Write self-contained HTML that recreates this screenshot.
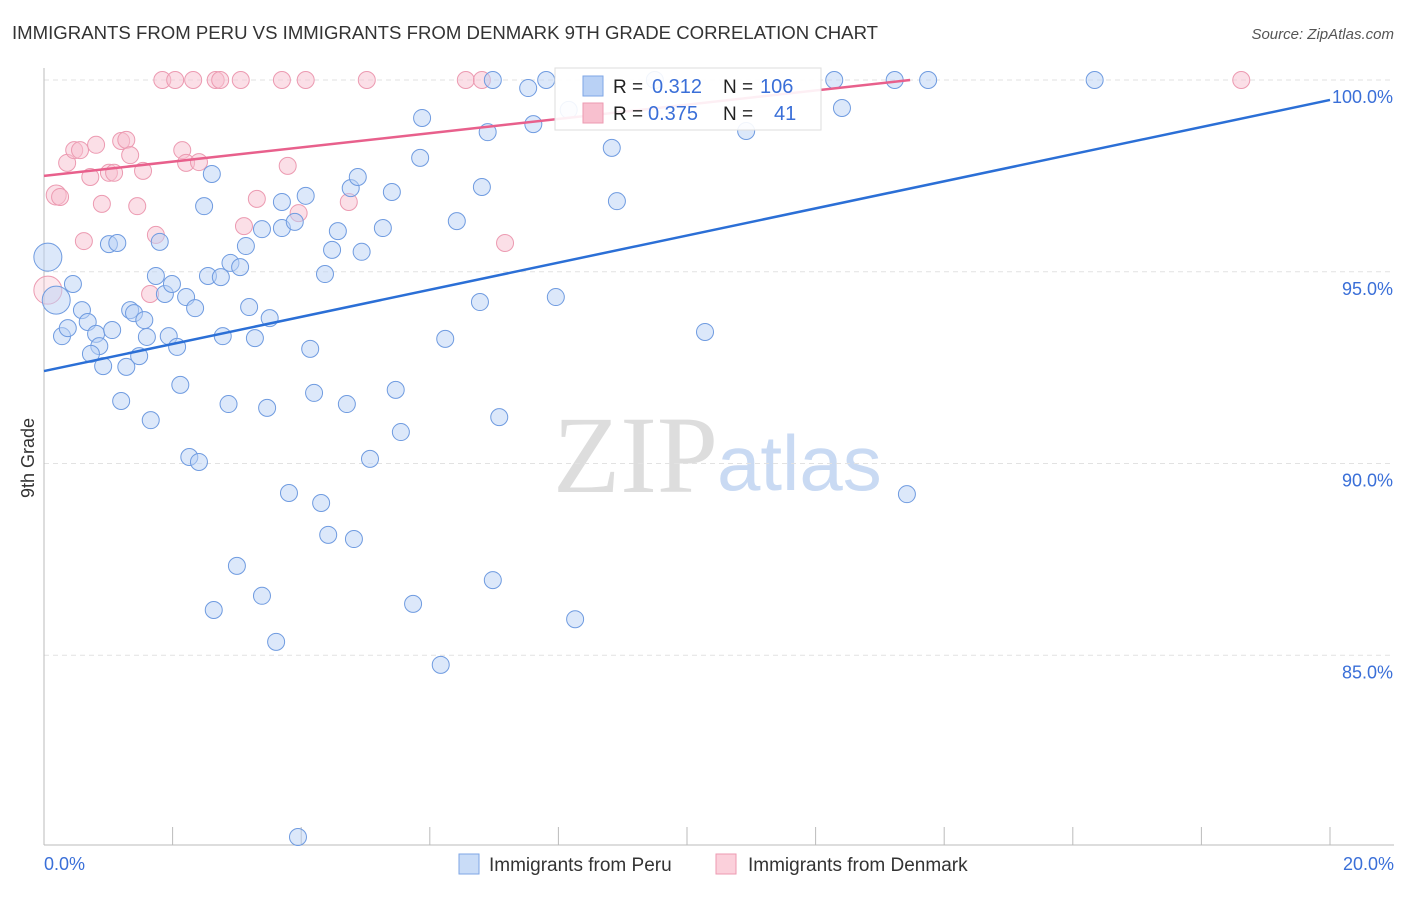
<!DOCTYPE html>
<html><head><meta charset="utf-8">
<style>
body{margin:0;background:#fff;font-family:"Liberation Sans",sans-serif;}
svg text{font-family:"Liberation Sans",sans-serif;}
</style></head>
<body>
<svg id="chart" width="1406" height="892" viewBox="0 0 1406 892">
<text x="12" y="39" font-size="18.6" fill="#333">IMMIGRANTS FROM PERU VS IMMIGRANTS FROM DENMARK 9TH GRADE CORRELATION CHART</text>
<text x="1394" y="39" font-size="15" fill="#555" font-style="italic" text-anchor="end">Source: ZipAtlas.com</text>
<g>
<text x="553" y="492" font-size="110" fill="#ddd" style="font-family:'Liberation Serif',serif">ZIP</text>
<text x="717" y="490" font-size="78" fill="#c9daf3">atlas</text>
</g>
<g id="grid"></g>
<g id="axes"></g>
<g id="pts"></g>
<g id="trends"></g>
<g>
<rect x="555" y="68" width="266" height="62" fill="#fff" fill-opacity="0.9" stroke="#ddd"/>
<rect x="583" y="76" width="20" height="20" fill="#b9d1f5" stroke="#7ea6e6"/>
<rect x="583" y="103" width="20" height="20" fill="#f8c0cf" stroke="#ec9ab1"/>
<text x="613" y="93" font-size="19" fill="#222">R = </text><text x="652" y="93" font-size="20" fill="#3a6fd8">0.312</text>
<text x="723" y="93" font-size="19" fill="#222">N = </text><text x="760" y="93" font-size="20" fill="#3a6fd8">106</text>
<text x="613" y="120" font-size="19" fill="#222">R = </text><text x="648" y="120" font-size="20" fill="#3a6fd8">0.375</text>
<text x="723" y="120" font-size="19" fill="#222">N = </text><text x="774" y="120" font-size="20" fill="#3a6fd8">41</text>
</g>
<g>
<rect x="459" y="854" width="20" height="20" fill="#c9dcf7" stroke="#7ea6e6"/>
<text x="489" y="871" font-size="19" fill="#333">Immigrants from Peru</text>
<rect x="716" y="854" width="20" height="20" fill="#fbd0db" stroke="#ec9ab1"/>
<text x="748" y="871" font-size="19" fill="#333">Immigrants from Denmark</text>
</g>
<text x="34" y="458" font-size="18" fill="#333" transform="rotate(-90 34 458)" text-anchor="middle">9th Grade</text>
</svg>
<script>
const peruX=[0.06,0.19,0.45,0.28,0.37,0.59,0.68,0.81,0.86,0.73,0.92,1.06,1.01,1.14,1.28,1.20,1.34,1.40,1.56,1.48,1.60,1.66,1.74,1.80,1.88,1.99,1.94,2.07,2.12,2.21,2.26,2.35,2.41,2.49,2.55,2.61,2.75,2.78,2.90,3.05,3.0,2.64,2.87,3.14,3.19,3.28,3.39,3.39,3.47,3.51,3.61,3.70,3.70,3.81,3.90,3.95,4.07,4.14,4.20,4.31,4.37,4.42,4.48,4.57,4.71,4.77,4.82,4.88,4.94,5.07,5.27,5.41,5.47,5.55,5.74,5.85,5.88,6.17,6.24,6.42,6.78,6.81,6.90,6.98,6.98,7.08,7.53,7.61,7.81,7.96,8.26,8.83,8.91,9.50,10.28,10.92,12.29,12.41,13.23,13.42,13.75,16.34,8.16];
const peruY=[95.38,94.26,94.68,93.32,93.53,94.0,93.69,93.38,93.06,92.86,92.54,93.48,95.72,95.75,92.52,91.63,94.0,93.92,93.74,92.8,93.30,91.13,94.89,95.78,94.42,94.68,93.32,93.04,92.05,94.34,90.17,94.05,90.04,96.71,94.89,97.55,94.86,93.32,95.23,95.12,87.33,86.18,91.55,95.67,94.08,93.27,86.55,96.11,91.45,93.79,85.35,96.14,96.82,89.23,96.30,80.26,96.98,92.99,91.84,88.97,94.94,88.14,95.57,96.06,91.55,97.18,88.03,97.47,95.52,90.12,96.14,97.08,91.92,90.82,86.34,97.97,99.01,84.75,93.25,96.32,94.21,97.21,98.64,86.96,100,91.21,99.79,98.85,100,94.34,85.94,98.23,96.84,100,93.43,98.67,100,99.27,100,89.20,100,100,99.22];
const denX=[1.84,2.04,2.32,2.67,2.74,3.06,3.70,4.07,5.02,6.56,6.81,18.62,0.19,0.25,0.36,0.47,0.56,0.62,0.72,0.81,0.90,1.01,1.09,1.20,1.28,1.34,1.45,1.54,1.65,1.74,2.15,2.21,2.41,3.11,3.31,3.79,3.96,4.74,7.17,0.06];
const denY=[100,100,100,100,100,100,100,100,100,100,100,100,97.0,96.95,97.84,98.17,98.17,95.80,97.47,98.31,96.77,97.58,97.58,98.41,98.44,98.04,96.71,97.63,94.42,95.96,98.17,97.84,97.86,96.19,96.90,97.76,96.53,96.82,95.75,94.52];
const peruTrendX=[0,20], peruTrendY=[92.41,99.48];
const denTrendX=[0,13.47], denTrendY=[97.50,100];
const yTicks=[100,95,90,85];
const yTickLabels=["100.0%","95.0%","90.0%","85.0%"];
const xTicks=[0,2,4,6,8,10,12,14,16,18,20];

const NS="http://www.w3.org/2000/svg";
const X=v=>44+v*64.3;
const Y=v=>80+(100-v)*38.35;
function mk(t,a,p){const e=document.createElementNS(NS,t);for(const k in a)e.setAttribute(k,a[k]);p.appendChild(e);return e;}
const grid=document.getElementById('grid'),axes=document.getElementById('axes'),pts=document.getElementById('pts'),tr=document.getElementById('trends');
yTicks.forEach((t,i)=>{
 const l=mk('line',{x1:44,x2:1394,y1:Y(t),y2:Y(t),stroke:'#e2e2e2','stroke-dasharray':'5,4'},grid);
 
 
 const tx=mk('text',{x:1393,y:Y(t)+23,'font-size':18,fill:'#3a6fd8','text-anchor':'end'},axes);
 tx.textContent=yTickLabels[i];
 
 
});
const ya=mk('line',{x1:44,x2:44,y1:68,y2:845,stroke:'#bbb'},axes);


const xa=mk('line',{x1:44,x2:1394,y1:845,y2:845,stroke:'#bbb'},axes);


xTicks.forEach(t=>{
 const l=mk('line',{x1:X(t),x2:X(t),y1:827,y2:845,stroke:'#bbb'},axes);
 
 
});
[[0,'0.0%','start',44],[20,'20.0%','end',1394]].forEach(d=>{
 const tx=mk('text',{x:d[3],y:870,'font-size':18,fill:'#3a6fd8','text-anchor':d[2]},axes);
 tx.textContent=d[1];
 
 
});
denX.forEach((x,i)=>{
 const big=i===denX.length-1;
 const r=big?14:(i===12?10:8.5);
 const c=mk('circle',{cx:X(x),cy:Y(denY[i]),r:r,fill:'#f8c0cf','fill-opacity':big?0.35:0.5,stroke:'#ec9ab1','stroke-width':1},pts);
 
 
});
peruX.forEach((x,i)=>{
 const r=i<2?14:8.5;
 const c=mk('circle',{cx:X(x),cy:Y(peruY[i]),r:r,fill:'#b9d1f5','fill-opacity':0.5,stroke:'#6f9be0','stroke-width':1},pts);
 
 
});
const t1=mk('line',{x1:X(peruTrendX[0]),y1:Y(peruTrendY[0]),x2:X(peruTrendX[1]),y2:Y(peruTrendY[1]),stroke:'#2b6fd6','stroke-width':2.5},tr);


const t2=mk('line',{x1:X(denTrendX[0]),y1:Y(denTrendY[0]),x2:X(denTrendX[1]),y2:Y(denTrendY[1]),stroke:'#e8608c','stroke-width':2.5},tr);


</script>
</body></html>
